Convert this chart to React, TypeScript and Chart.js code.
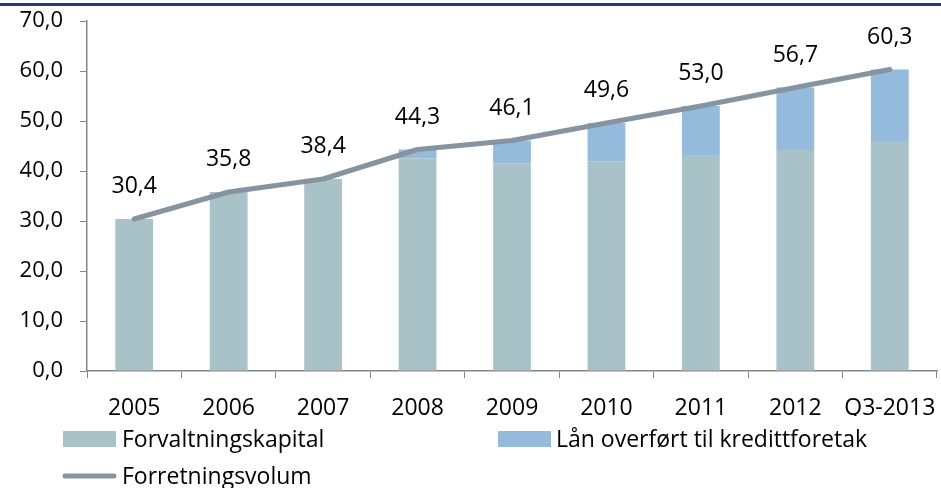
import React, { useEffect, useRef } from "react";
import { Chart, registerables } from "chart.js";

Chart.register(...registerables);

const categories = ["2005", "2006", "2007", "2008", "2009", "2010", "2011", "2012", "Q3-2013"];
const forvaltningskapital = [30.4, 35.8, 38.4, 42.5, 41.5, 41.9, 43.2, 44.2, 46.0];
const laanOverfort = [0, 0, 0, 1.8, 4.6, 7.7, 9.8, 12.5, 14.3];
const forretningsvolum = [30.4, 35.8, 38.4, 44.3, 46.1, 49.6, 53.0, 56.7, 60.3];
const yTicks = [0, 10, 20, 30, 40, 50, 60, 70];

const COL_FORV = "#A9C2C7";
const COL_LAAN = "#94BADC";
const COL_LINE = "#8594A0";
const FONT = "'Open Sans', 'Noto Sans', sans-serif";

const fmt = (v: number) => v.toFixed(1).replace(".", ",");

export default function App() {
  const ref = useRef<HTMLCanvasElement | null>(null);

  useEffect(() => {
    document.body.style.margin = "0";
    const canvas = ref.current;
    if (!canvas) return;

    const overlay = {
      id: "overlay",
      afterDatasetsDraw(chart: any) {
        const ctx = chart.ctx;
        ctx.save();
        const meta = chart.getDatasetMeta(2);
        ctx.fillStyle = "#000";
        ctx.font = `23px ${FONT}`;
        ctx.textAlign = "center";
        ctx.textBaseline = "alphabetic";
        meta.data.forEach((pt: any, i: number) => {
          ctx.fillText(fmt(forretningsvolum[i]), pt.x, pt.y - 26);
        });
        ctx.restore();
      },
      afterDraw(chart: any) {
        const ctx = chart.ctx;
        ctx.save();
        ctx.fillStyle = "#1F3D7C";
        ctx.fillRect(0, 3, chart.width, 3);
        ctx.font = `23px ${FONT}`;
        ctx.textAlign = "left";
        ctx.textBaseline = "alphabetic";
        ctx.fillStyle = COL_FORV;
        ctx.fillRect(63, 431, 53, 16);
        ctx.fillStyle = "#000";
        ctx.fillText("Forvaltningskapital", 122, 447);
        ctx.fillStyle = COL_LAAN;
        ctx.fillRect(498, 431, 53, 16);
        ctx.fillStyle = "#000";
        ctx.fillText("Lån overført til kredittforetak", 556, 447);
        ctx.strokeStyle = COL_LINE;
        ctx.lineWidth = 5;
        ctx.lineCap = "round";
        ctx.beginPath();
        ctx.moveTo(65, 476);
        ctx.lineTo(114, 476);
        ctx.stroke();
        ctx.fillStyle = "#000";
        ctx.fillText("Forretningsvolum", 122, 484);
        ctx.restore();
      },
    };

    const chart = new Chart(canvas, {
      type: "bar",
      data: {
        labels: categories,
        datasets: [
          {
            type: "bar",
            label: "Forvaltningskapital",
            data: forvaltningskapital,
            backgroundColor: COL_FORV,
            stack: "bars",
            order: 2,
            barPercentage: 0.4,
            categoryPercentage: 1,
          },
          {
            type: "bar",
            label: "Lån overført til kredittforetak",
            data: laanOverfort,
            backgroundColor: COL_LAAN,
            stack: "bars",
            order: 2,
            barPercentage: 0.4,
            categoryPercentage: 1,
          },
          {
            type: "line",
            label: "Forretningsvolum",
            data: forretningsvolum,
            borderColor: COL_LINE,
            backgroundColor: COL_LINE,
            borderWidth: 5,
            borderCapStyle: "round",
            borderJoinStyle: "round",
            pointRadius: 0,
            tension: 0,
            stack: "line",
            order: 0,
          } as any,
        ],
      },
      options: {
        responsive: false,
        animation: false,
        layout: { padding: { top: 21, right: 4, left: 0, bottom: 72 } },
        plugins: {
          legend: { display: false },
          tooltip: { enabled: false },
        },
        scales: {
          x: {
            stacked: true,
            grid: {
              display: true,
              drawOnChartArea: false,
              drawTicks: true,
              tickLength: 7,
              color: "#868686",
              offset: true,
            },
            border: { display: true, color: "#868686", width: 1.5 },
            ticks: {
              color: "#000",
              font: { family: FONT, size: 23 },
              padding: 17,
              maxRotation: 0,
              autoSkip: false,
            },
            afterFit(scale: any) {
              scale.height = 45;
              scale.paddingLeft = 0;
              scale.paddingRight = 0;
            },
          },
          y: {
            stacked: true,
            min: 0,
            max: 70,
            afterBuildTicks(scale: any) {
              scale.ticks = yTicks.map((v) => ({ value: v }));
            },
            grid: {
              display: true,
              drawOnChartArea: false,
              drawTicks: true,
              tickLength: 7,
              color: "#868686",
            },
            border: { display: true, color: "#868686", width: 1.5 },
            ticks: {
              color: "#000",
              font: { family: FONT, size: 22 },
              padding: 17,
              callback: (v: any) => fmt(Number(v)),
            },
            afterFit(scale: any) {
              scale.width = 87;
              scale.paddingTop = 0;
              scale.paddingBottom = 0;
            },
          },
        },
      },
      plugins: [overlay],
    });

    return () => chart.destroy();
  }, []);

  return <canvas ref={ref} width={941} height={488} style={{ display: "block" }} />;
}
